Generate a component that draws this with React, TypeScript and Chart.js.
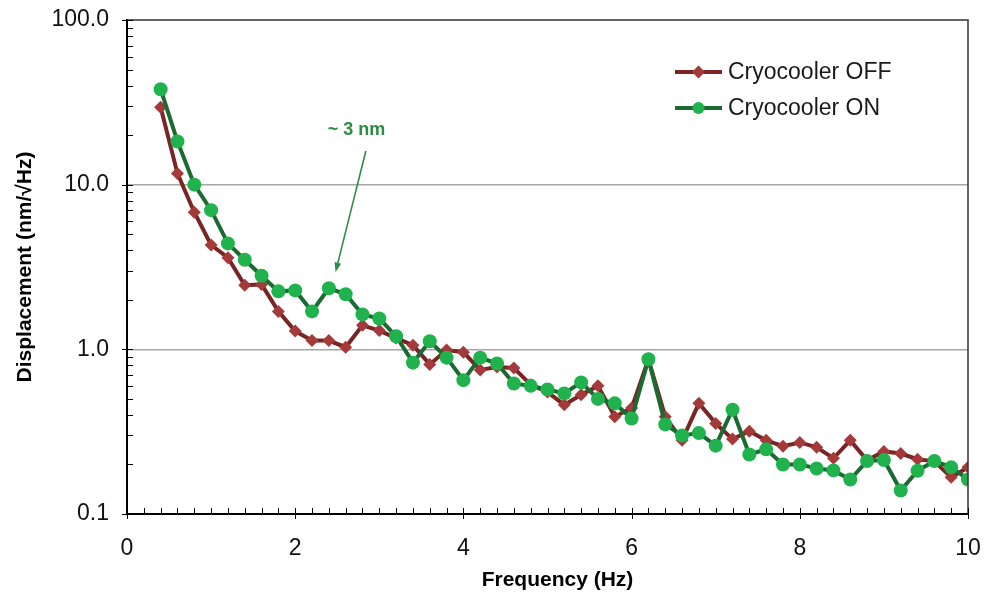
import React, { useEffect, useRef } from 'react';
import { Chart, registerables } from 'chart.js';

Chart.register(...registerables);

// ---------- DATA ----------
const FREQUENCIES = [
  0.4, 0.6, 0.8, 1.0, 1.2, 1.4, 1.6, 1.8, 2.0, 2.2, 2.4, 2.6, 2.8, 3.0, 3.2, 3.4, 3.6,
  3.8, 4.0, 4.2, 4.4, 4.6, 4.8, 5.0, 5.2, 5.4, 5.6, 5.8, 6.0, 6.2, 6.4, 6.6, 6.8, 7.0,
  7.2, 7.4, 7.6, 7.8, 8.0, 8.2, 8.4, 8.6, 8.8, 9.0, 9.2, 9.4, 9.6, 9.8, 10.0,
];

const OFF_VALUES = [
  29.5, 11.7, 6.8, 4.3, 3.6, 2.45, 2.48, 1.7, 1.29, 1.13, 1.13, 1.03, 1.4, 1.3, 1.17, 1.06, 0.81,
  0.99, 0.96, 0.75, 0.78, 0.77, 0.61, 0.55, 0.46, 0.53, 0.6, 0.39, 0.44, 0.87, 0.39, 0.28, 0.47, 0.355,
  0.285, 0.318, 0.28, 0.258, 0.272, 0.254, 0.218, 0.28, 0.212, 0.24, 0.233, 0.215, 0.209, 0.167, 0.192,
];

const ON_VALUES = [
  38, 18.3, 10.0, 7.0, 4.4, 3.5, 2.8, 2.25, 2.28, 1.7, 2.35, 2.16, 1.63, 1.54, 1.2, 0.83, 1.12,
  0.89, 0.65, 0.89, 0.82, 0.62, 0.6, 0.57, 0.54, 0.63, 0.5, 0.47, 0.38, 0.87, 0.35, 0.3, 0.31, 0.26,
  0.43, 0.23, 0.247, 0.2, 0.2, 0.189, 0.184, 0.162, 0.21, 0.213, 0.139, 0.183, 0.21, 0.192, 0.162,
];

const SERIES_NAMES = ['Cryocooler OFF', 'Cryocooler ON'];

const X_TICKS = [0, 2, 4, 6, 8, 10];
const Y_TICKS = [0.1, 1, 10, 100];
const Y_TICK_LABELS = ['0.1', '1.0', '10.0', '100.0'];
const Y_GRID_VALUES = [1, 10];

const X_TITLE = 'Frequency (Hz)';
const Y_TITLE = 'Displacement (nm/\u221AHz)';

const ANNOTATION_TEXT = '~ 3 nm';
const ANNOTATION_TEXT_AT = { x: 2.73, y: 21.4 };
const ANNOTATION_ARROW_FROM = { x: 2.84, y: 16.0 };
const ANNOTATION_ARROW_TO = { x: 2.48, y: 2.95 };

// ---------- STYLE ----------
const FONT = '"Liberation Sans", Arial, sans-serif';
const OFF_LINE = '#7a2525';
const OFF_MARK = '#a43a3a';
const ON_LINE = '#1b6a32';
const ON_MARK = '#20b24c';
const ANNOT_COLOR = '#2e8c45';

const zeroPadding = (scale: any) => {
  scale.paddingTop = 0;
  scale.paddingBottom = 0;
  scale.paddingLeft = 0;
  scale.paddingRight = 0;
};

const chromePlugin = {
  id: 'chrome',
  afterDraw(chart: any) {
    const { ctx, chartArea: a, scales } = chart;
    const xs = scales.x;
    const ys = scales.y;
    ctx.save();

    // top & right frame
    ctx.strokeStyle = '#333';
    ctx.lineWidth = 1.5;
    ctx.beginPath();
    ctx.moveTo(a.left, a.top);
    ctx.lineTo(a.right, a.top);
    ctx.lineTo(a.right, a.bottom);
    ctx.stroke();

    // y tick marks (inside)
    ctx.strokeStyle = '#000';
    ctx.lineWidth = 1;
    for (let d = 0; d < Y_TICKS.length; d++) {
      const base = Y_TICKS[d];
      const last = d === Y_TICKS.length - 1;
      for (let m = 1; m <= (last ? 1 : 9); m++) {
        const py = Math.round(ys.getPixelForValue(base * m)) + 0.5;
        ctx.beginPath();
        ctx.moveTo(a.left - (m === 1 ? 5 : 0), py);
        ctx.lineTo(a.left + 6, py);
        ctx.stroke();
      }
    }
    // x tick marks every 0.2
    for (let i = 0; i <= 50; i++) {
      const v = i * 0.2;
      const px = Math.round(xs.getPixelForValue(v)) + 0.5;
      const major = i % 10 === 0;
      ctx.beginPath();
      ctx.moveTo(px, a.bottom + (major ? 5 : 0));
      ctx.lineTo(px, a.bottom - 6);
      ctx.stroke();
    }

    // x axis title
    ctx.fillStyle = '#000';
    ctx.font = `bold 21px ${FONT}`;
    ctx.textAlign = 'center';
    ctx.textBaseline = 'middle';
    ctx.fillText(X_TITLE, (a.left + a.right) / 2 + 10, a.bottom + 66);

    // annotation
    ctx.fillStyle = ANNOT_COLOR;
    ctx.font = `bold 18px ${FONT}`;
    ctx.fillText(
      ANNOTATION_TEXT,
      xs.getPixelForValue(ANNOTATION_TEXT_AT.x),
      ys.getPixelForValue(ANNOTATION_TEXT_AT.y)
    );
    const x0 = xs.getPixelForValue(ANNOTATION_ARROW_FROM.x);
    const y0 = ys.getPixelForValue(ANNOTATION_ARROW_FROM.y);
    const x1 = xs.getPixelForValue(ANNOTATION_ARROW_TO.x);
    const y1 = ys.getPixelForValue(ANNOTATION_ARROW_TO.y);
    const ang = Math.atan2(y1 - y0, x1 - x0);
    ctx.strokeStyle = ANNOT_COLOR;
    ctx.lineWidth = 1.6;
    ctx.beginPath();
    ctx.moveTo(x0, y0);
    ctx.lineTo(x1 - 6 * Math.cos(ang), y1 - 6 * Math.sin(ang));
    ctx.stroke();
    ctx.beginPath();
    ctx.moveTo(x1, y1);
    ctx.lineTo(x1 - 10 * Math.cos(ang - 0.35), y1 - 10 * Math.sin(ang - 0.35));
    ctx.lineTo(x1 - 10 * Math.cos(ang + 0.35), y1 - 10 * Math.sin(ang + 0.35));
    ctx.closePath();
    ctx.fill();

    // legend
    const lx0 = a.right - 293;
    const lx1 = a.right - 246;
    const lyStart = a.top + 52;
    const gap = 36;
    const styles = [
      { line: OFF_LINE, mark: OFF_MARK, shape: 'diamond' },
      { line: ON_LINE, mark: ON_MARK, shape: 'circle' },
    ];
    ctx.font = `23px ${FONT}`;
    ctx.textAlign = 'left';
    ctx.textBaseline = 'middle';
    SERIES_NAMES.forEach((name, i) => {
      const st = styles[i];
      const ly = lyStart + i * gap;
      ctx.strokeStyle = st.line;
      ctx.lineWidth = 4;
      ctx.beginPath();
      ctx.moveTo(lx0, ly);
      ctx.lineTo(lx1, ly);
      ctx.stroke();
      const cx = (lx0 + lx1) / 2;
      ctx.fillStyle = st.mark;
      ctx.beginPath();
      if (st.shape === 'diamond') {
        ctx.moveTo(cx, ly - 6.5);
        ctx.lineTo(cx + 6.5, ly);
        ctx.lineTo(cx, ly + 6.5);
        ctx.lineTo(cx - 6.5, ly);
        ctx.closePath();
      } else {
        ctx.arc(cx, ly, 6, 0, Math.PI * 2);
      }
      ctx.fill();
      ctx.fillStyle = '#1a1a1a';
      ctx.fillText(name, lx1 + 6, ly + 1);
    });

    ctx.restore();
  },
};

export default function App() {
  const ref = useRef<HTMLCanvasElement | null>(null);

  useEffect(() => {
    if (!ref.current) return;
    const offData = FREQUENCIES.map((f, i) => ({ x: f, y: OFF_VALUES[i] }));
    const onData = FREQUENCIES.map((f, i) => ({ x: f, y: ON_VALUES[i] }));

    const chart = new Chart(ref.current, {
      type: 'line',
      data: {
        datasets: [
          {
            label: SERIES_NAMES[0],
            data: offData,
            borderColor: OFF_LINE,
            borderWidth: 4,
            pointStyle: 'rectRot',
            pointRadius: 6.5,
            pointBackgroundColor: OFF_MARK,
            pointBorderColor: OFF_MARK,
            pointBorderWidth: 0,
            tension: 0,
            order: 2,
          },
          {
            label: SERIES_NAMES[1],
            data: onData,
            borderColor: ON_LINE,
            borderWidth: 4,
            pointStyle: 'circle',
            pointRadius: 7,
            pointBackgroundColor: ON_MARK,
            pointBorderColor: ON_MARK,
            pointBorderWidth: 0,
            tension: 0,
            order: 1,
          },
        ],
      },
      options: {
        responsive: false,
        animation: false,
        devicePixelRatio: 1,
        layout: { padding: { left: 0, top: 20, right: 16, bottom: 0 } },
        plugins: {
          legend: { display: false },
          tooltip: { enabled: false },
        },
        scales: {
          x: {
            type: 'linear',
            min: 0,
            max: 10,
            afterBuildTicks: (scale: any) => {
              scale.ticks = X_TICKS.map((v) => ({ value: v }));
            },
            afterFit: (scale: any) => {
              scale.height = 85;
              zeroPadding(scale);
            },
            ticks: {
              font: { family: FONT, size: 23 },
              color: '#111',
              padding: 21,
              autoSkip: false,
              maxRotation: 0,
              callback: (v: any) => String(v),
            },
            grid: { display: false, drawTicks: false },
            border: { display: true, color: '#000', width: 2 },
            title: { display: false },
          },
          y: {
            type: 'logarithmic',
            min: 0.1,
            max: 100,
            afterBuildTicks: (scale: any) => {
              scale.ticks = Y_TICKS.map((v) => ({ value: v }));
            },
            afterFit: (scale: any) => {
              scale.width = 127;
              zeroPadding(scale);
            },
            ticks: {
              font: { family: FONT, size: 23 },
              color: '#111',
              padding: 18,
              autoSkip: false,
              callback: (v: any) => {
                const idx = Y_TICKS.findIndex((t) => Math.abs(t - v) < 1e-9);
                return idx >= 0 ? Y_TICK_LABELS[idx] : '';
              },
            },
            grid: {
              drawTicks: false,
              lineWidth: 1.5,
              color: (ctx: any) => {
                const v = ctx.tick ? ctx.tick.value : NaN;
                return Y_GRID_VALUES.some((g) => Math.abs(g - v) < 1e-9) ? '#a6a6a6' : 'rgba(0,0,0,0)';
              },
            },
            border: { display: true, color: '#000', width: 2 },
            title: {
              display: true,
              text: Y_TITLE,
              color: '#000',
              font: { family: FONT, size: 21, weight: 'bold' },
              padding: { top: 13, bottom: 0 },
            },
          },
        },
      } as any,
      plugins: [chromePlugin],
    });

    return () => chart.destroy();
  }, []);

  return (
    <div style={{ position: 'absolute', left: 0, top: 0, width: 984, height: 599, background: '#fff' }}>
      <canvas ref={ref} width={984} height={599} style={{ display: 'block' }} />
    </div>
  );
}
